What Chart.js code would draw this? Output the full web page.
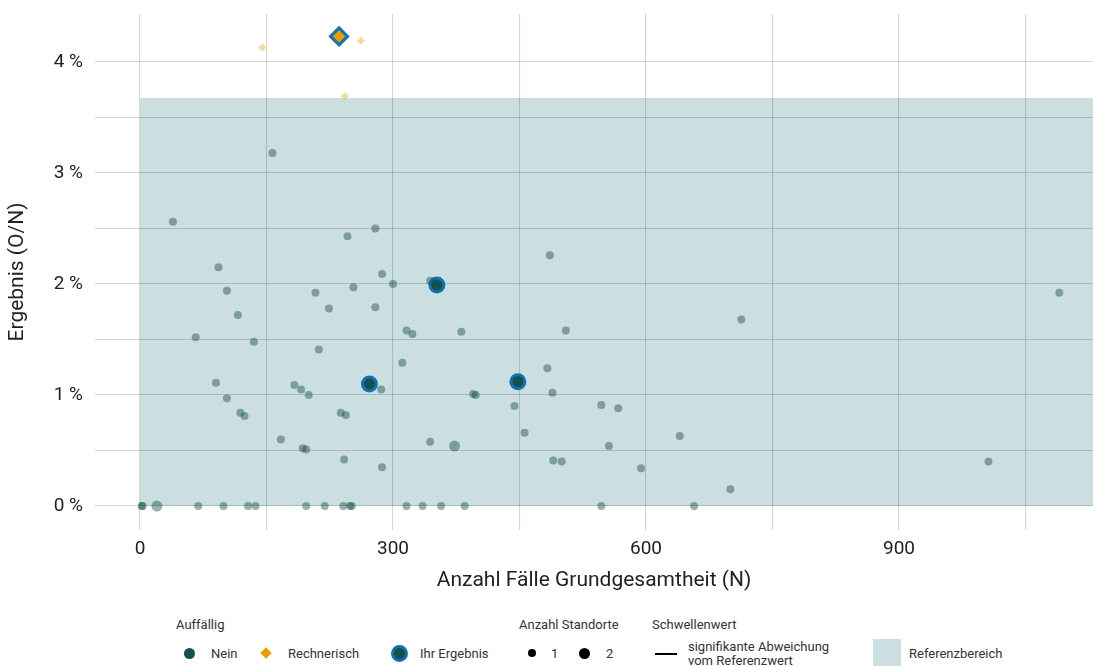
<!DOCTYPE html>
<html>
<head>
<meta charset="utf-8">
<script src="https://cdn.jsdelivr.net/npm/chart.js@4"></script>
<style>
  body { margin: 0; background: #fff; font-family: Roboto, sans-serif; color: #333; }
  #wrap { position: relative; width: 1093px; height: 666px; overflow: hidden; }
  #box { position: absolute; left: 0; top: 0; width: 1093px; height: 600px; }
  .lg { position: absolute; font-size: 13px; line-height: 13px; white-space: nowrap; }
  .mk { position: absolute; box-sizing: border-box; }
</style>
</head>
<body>
<div id="wrap">
  <div id="box"><canvas id="chart"></canvas></div>

  <div class="lg" style="left:176px;top:618px">Auffällig</div>
  <div class="mk" style="left:184px;top:648px;width:11px;height:11px;border-radius:50%;background:#174f4a"></div>
  <div class="lg" style="left:211px;top:647px">Nein</div>
  <div class="mk" style="left:262px;top:649px;width:8px;height:8px;background:#e69f00;transform:rotate(45deg)"></div>
  <div class="lg" style="left:288px;top:647px">Rechnerisch</div>
  <div class="mk" style="left:391px;top:645px;width:17px;height:17px;border-radius:50%;background:#174f4a;border:3px solid #0f72b7"></div>
  <div class="lg" style="left:420px;top:647px">Ihr Ergebnis</div>

  <div class="lg" style="left:519px;top:618px">Anzahl Standorte</div>
  <div class="mk" style="left:528px;top:649px;width:8px;height:8px;border-radius:50%;background:#000"></div>
  <div class="lg" style="left:551px;top:647px">1</div>
  <div class="mk" style="left:579px;top:648px;width:11px;height:11px;border-radius:50%;background:#000"></div>
  <div class="lg" style="left:606px;top:647px">2</div>

  <div class="lg" style="left:652px;top:618px">Schwellenwert</div>
  <div class="mk" style="left:655px;top:653px;width:22px;height:2px;background:#000"></div>
  <div class="lg" style="left:688px;top:640px">signifikante Abweichung</div>
  <div class="lg" style="left:688px;top:654px">vom Referenzwert</div>
  <div class="mk" style="left:873px;top:639px;width:28px;height:30px;background:#cbdfe1"></div>
  <div class="lg" style="left:909px;top:647px">Referenzbereich</div>
</div>

<script>
// Auffällig: nein
const neinX = [157, 39, 246, 279, 486, 93, 287, 103, 208, 253, 300, 344, 1090, 116, 224, 279,
  66, 316, 323, 381, 505, 713, 135, 212, 311, 483, 90, 183, 191, 286, 200, 395, 398, 489,
  103, 444, 547, 567, 119, 124, 238, 244, 167, 344, 373, 456, 640, 193, 197, 556, 242, 490,
  500, 287, 594, 1006, 700,
  2, 3, 20, 69, 99, 128, 137, 197, 219, 241, 249, 251, 316, 335, 357, 385, 547, 657];
const neinY = [3.18, 2.56, 2.43, 2.50, 2.26, 2.15, 2.09, 1.94, 1.92, 1.97, 2.00, 2.03, 1.92, 1.72, 1.78, 1.79,
  1.52, 1.58, 1.55, 1.57, 1.58, 1.68, 1.48, 1.41, 1.29, 1.24, 1.11, 1.09, 1.05, 1.05, 1.00, 1.01, 1.00, 1.02,
  0.97, 0.90, 0.91, 0.88, 0.84, 0.81, 0.84, 0.82, 0.60, 0.58, 0.54, 0.66, 0.63, 0.52, 0.51, 0.54, 0.42, 0.41,
  0.40, 0.35, 0.34, 0.40, 0.15,
  0, 0, 0, 0, 0, 0, 0, 0, 0, 0, 0, 0, 0, 0, 0, 0, 0, 0];
// Anzahl Standorte (1 oder 2)
const neinN = neinX.map((x, i) => ((x === 373 && neinY[i] === 0.54) || (x === 20 && neinY[i] === 0)) ? 2 : 1);

// Auffällig: rechnerisch
const rechX = [145, 262, 243];
const rechY = [4.13, 4.19, 3.69];

// Ihr Ergebnis
const ihrX = [352, 272, 448];
const ihrY = [1.99, 1.10, 1.12];
const ihrRechX = [236];
const ihrRechY = [4.23];

// Referenzbereich
const refXStart = 0;
const refLower = 0;
const refUpper = 3.675;

// grid positions and labelled ticks
const xGrid = [0, 150, 300, 450, 600, 750, 900, 1050];
const xTicks = [0, 300, 600, 900];
const yGrid = [0, 0.5, 1, 1.5, 2, 2.5, 3, 3.5, 4];
const yTicks = [0, 1, 2, 3, 4];

const toPts = (xs, ys) => xs.map((x, i) => ({ x: x, y: ys[i] }));

const refArea = {
  id: 'refArea',
  beforeDraw(chart) {
    const { ctx, chartArea, scales } = chart;
    const left = scales.x.getPixelForValue(refXStart);
    const top = scales.y.getPixelForValue(refUpper);
    const bottom = scales.y.getPixelForValue(refLower);
    ctx.save();
    ctx.fillStyle = '#cbdfe1';
    ctx.fillRect(left, top, chartArea.right - left, bottom - top);
    ctx.restore();
  }
};

const tickFont = { family: 'Roboto', size: 19 };
const titleFont = { family: 'Roboto', size: 21 };
const gridColor = 'rgba(0,0,0,0.16)';

new Chart(document.getElementById('chart'), {
  type: 'scatter',
  data: {
    datasets: [
      {
        label: 'Nein',
        data: toPts(neinX, neinY),
        backgroundColor: 'rgba(23,79,74,0.45)',
        borderWidth: 0,
        pointRadius: ctx => neinN[ctx.dataIndex] === 2 ? 5.5 : 4
      },
      {
        label: 'Rechnerisch',
        data: toPts(rechX, rechY),
        backgroundColor: 'rgba(230,159,0,0.4)',
        borderWidth: 0,
        pointStyle: 'rectRot',
        pointRadius: 4
      },
      {
        label: 'Ihr Ergebnis',
        data: toPts(ihrX, ihrY),
        backgroundColor: '#174f4a',
        borderColor: '#0f72b7',
        borderWidth: 3,
        pointRadius: 7
      },
      {
        label: 'Ihr Ergebnis (rechnerisch)',
        data: toPts(ihrRechX, ihrRechY),
        backgroundColor: '#e69f00',
        borderColor: '#0f72b7',
        borderWidth: 3,
        pointStyle: 'rectRot',
        pointRadius: 8.5
      }
    ]
  },
  options: {
    responsive: true,
    maintainAspectRatio: false,
    animation: false,
    layout: { autoPadding: false, padding: { top: 14, right: 0, left: 0, bottom: 0 } },
    plugins: { legend: { display: false }, tooltip: { enabled: false } },
    scales: {
      x: {
        type: 'linear',
        min: -53.4,
        max: 1130,
        border: { display: false },
        grid: { color: gridColor, lineWidth: 1.1, drawTicks: false },
        afterBuildTicks: s => { s.ticks = xGrid.map(v => ({ value: v })); },
        ticks: {
          padding: 8,
          color: '#222',
          font: tickFont,
          maxRotation: 0,
          autoSkip: false,
          callback: v => xTicks.includes(v) ? String(v) : ''
        },
        title: { display: true, text: 'Anzahl Fälle Grundgesamtheit (N)', color: '#222', font: titleFont, padding: { top: 0, bottom: 7 } },
        afterFit: s => { s.height = 70; s.paddingLeft = 0; s.paddingRight = 0; }
      },
      y: {
        type: 'linear',
        min: -0.216,
        max: 4.432,
        border: { display: false },
        grid: { color: gridColor, lineWidth: 1.1, drawTicks: false },
        afterBuildTicks: s => { s.ticks = yGrid.map(v => ({ value: v })); },
        ticks: {
          padding: 12,
          color: '#222',
          font: tickFont,
          autoSkip: false,
          callback: v => yTicks.includes(v) ? v + ' %' : ''
        },
        title: { display: true, text: 'Ergebnis (O/N)', color: '#222', font: titleFont, padding: { top: 5, bottom: 0 } },
        afterFit: s => { s.width = 95; s.paddingTop = 0; s.paddingBottom = 0; }
      }
    }
  },
  plugins: [refArea]
});
</script>
</body>
</html>
